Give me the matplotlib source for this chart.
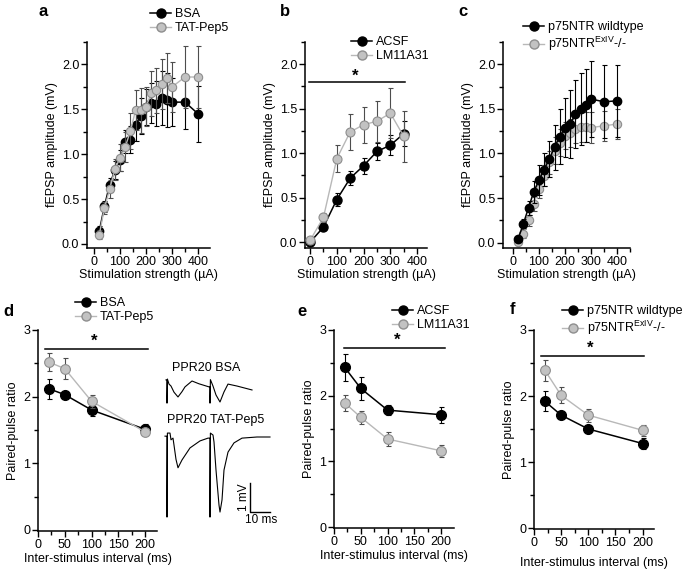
# -*- coding: utf-8 -*-
import matplotlib
matplotlib.use('Agg')
import matplotlib.pyplot as plt
from matplotlib.lines import Line2D
from matplotlib.ticker import MultipleLocator

plt.rcParams['font.family'] = ['Liberation Sans', 'DejaVu Sans']
plt.rcParams['font.size'] = 9
plt.rcParams['mathtext.fontset'] = 'custom'
plt.rcParams['mathtext.rm'] = 'Liberation Sans'

# ---- data: input-output curves (a-c) ----
stim_ac = [20, 40, 60, 80, 100, 120, 140, 160, 180, 200, 220, 240, 260, 280, 300, 350, 400]
bsa_io = [0.14, 0.42, 0.66, 0.82, 0.93, 1.14, 1.16, 1.33, 1.43, 1.53, 1.57, 1.56, 1.63, 1.60, 1.58, 1.58, 1.45]
bsa_io_err = [0.06, 0.06, 0.08, 0.10, 0.12, 0.13, 0.15, 0.18, 0.20, 0.20, 0.22, 0.25, 0.30, 0.30, 0.27, 0.30, 0.31]
pep5_io = [0.10, 0.40, 0.61, 0.83, 0.96, 1.08, 1.26, 1.49, 1.49, 1.53, 1.68, 1.71, 1.78, 1.85, 1.75, 1.86, 1.86]
pep5_io_err = [0.05, 0.07, 0.10, 0.12, 0.15, 0.17, 0.20, 0.22, 0.25, 0.22, 0.25, 0.25, 0.28, 0.28, 0.28, 0.34, 0.34]

stim_b = [0, 50, 100, 150, 200, 250, 300, 350]
acsf_io = [0.00, 0.17, 0.48, 0.72, 0.86, 1.02, 1.09, 1.22]
acsf_io_err = [0.03, 0.03, 0.07, 0.08, 0.09, 0.10, 0.11, 0.14]
lm_io = [0.02, 0.28, 0.94, 1.24, 1.32, 1.36, 1.45, 1.19]
lm_io_err = [0.03, 0.05, 0.15, 0.20, 0.20, 0.23, 0.28, 0.29]

wt_io = [0.04, 0.21, 0.39, 0.57, 0.70, 0.82, 0.94, 1.07, 1.19, 1.29, 1.33, 1.44, 1.50, 1.54, 1.61, 1.58, 1.59]
wt_io_err = [0.03, 0.05, 0.08, 0.12, 0.17, 0.18, 0.20, 0.25, 0.31, 0.33, 0.38, 0.38, 0.40, 0.41, 0.43, 0.41, 0.40]
ko_io = [0.01, 0.10, 0.25, 0.43, 0.60, 0.75, 0.90, 1.03, 1.12, 1.20, 1.23, 1.28, 1.30, 1.30, 1.29, 1.31, 1.33]
ko_io_err = [0.03, 0.05, 0.06, 0.08, 0.10, 0.12, 0.13, 0.15, 0.15, 0.15, 0.16, 0.16, 0.17, 0.17, 0.17, 0.17, 0.17]

# ---- data: paired-pulse ratio (d-f) ----
isi = [20, 50, 100, 200]
bsa_ppr = [2.12, 2.03, 1.80, 1.51]
bsa_ppr_err = [0.15, 0.03, 0.09, 0.08]
pep5_ppr = [2.52, 2.42, 1.93, 1.47]
pep5_ppr_err = [0.14, 0.16, 0.10, 0.05]
acsf_ppr = [2.43, 2.11, 1.78, 1.71]
acsf_ppr_err = [0.20, 0.17, 0.08, 0.12]
lm_ppr = [1.89, 1.67, 1.34, 1.16]
lm_ppr_err = [0.12, 0.10, 0.10, 0.09]
wt_ppr = [1.92, 1.71, 1.50, 1.28]
wt_ppr_err = [0.15, 0.05, 0.06, 0.08]
ko_ppr = [2.39, 2.01, 1.71, 1.48]
ko_ppr_err = [0.16, 0.12, 0.10, 0.08]

# example traces (ms, mV)
bsa_trace_t = [-0.5, 0.0, 0.0, 0.2, 1.0, 2.0, 3.5, 5.5, 7.5, 9.0, 12.5, 16.0, 21.0,
               21.5, 21.5, 21.7, 23.0, 24.5, 26.5, 28.5, 30.5, 35.0, 42.5]
bsa_trace_v = [2.04, 2.04, 1.21, 2.07, 1.89, 1.82, 1.60, 1.43, 1.62, 1.79, 2.00, 1.90, 1.79,
               1.79, 1.21, 2.05, 1.82, 1.50, 1.25, 1.61, 1.89, 1.82, 1.68]
pep5_trace_t = [-1.0, 0.0, 0.0, 0.2, 1.5, 2.0, 3.0, 3.5, 4.5, 5.5, 7.5, 11.5, 16.5, 20.5,
                21.5, 21.5, 21.7, 23.0, 23.5, 24.5, 26.0, 26.5, 27.5, 28.5, 30.5, 33.5, 37.5, 45.0, 51.5]
pep5_trace_v = [0.03, 0.03, -2.86, 0.14, 0.14, -0.10, -0.04, -0.29, -0.80, -1.10, -0.82, -0.39, -0.14, -0.04,
                -0.04, -2.86, 0.14, 0.07, -0.18, -1.18, -2.43, -2.68, -2.25, -1.18, -0.54, -0.21, -0.04, 0.0, 0.0]

W, H = 685, 576
GREY_FACE = '#c2c2c2'
GREY_EDGE = '#8e8e8e'
GREY_LINE = '#b8b8b8'
GREY_ERR = '#4d4d4d'

fig = plt.figure(figsize=(W / 100, H / 100), dpi=100, facecolor='white')


def px_axes(left, top, right, bottom):
    return fig.add_axes([left / W, 1 - bottom / H, (right - left) / W, (bottom - top) / H])


def prism_style(ax):
    for s in ('top', 'right'):
        ax.spines[s].set_visible(False)
    for s in ('left', 'bottom'):
        ax.spines[s].set_linewidth(1.1)
    ax.tick_params(which='both', direction='out', width=1.0, labelsize=9, pad=1.5)
    ax.tick_params(which='major', length=4)
    ax.tick_params(which='minor', length=3)


def series(ax, x, y, e, grey, ms, z):
    if grey:
        ax.errorbar(x, y, yerr=e, fmt='o-', color=GREY_LINE, mfc=GREY_FACE, mec=GREY_EDGE,
                    ecolor=GREY_ERR, ms=ms, lw=1.0, elinewidth=0.8, capsize=1.8,
                    capthick=0.8, mew=0.8, zorder=z)
    else:
        ax.errorbar(x, y, yerr=e, fmt='o-', color='black', mfc='black', mec='black',
                    ecolor='black', ms=ms, lw=1.1, elinewidth=0.8, capsize=1.8,
                    capthick=0.8, zorder=z)


def legend(labels, x, y, ms):
    h = [Line2D([], [], color='black', marker='o', mfc='black', mec='black', ms=ms, lw=1.1),
         Line2D([], [], color=GREY_LINE, marker='o', mfc=GREY_FACE, mec=GREY_EDGE, ms=ms, lw=1.0)]
    fig.legend(h, labels, loc='upper left', bbox_to_anchor=(x / W, 1 - y / H), frameon=False,
               handlelength=1.7, handletextpad=0.3, labelspacing=0.15, borderpad=0,
               borderaxespad=0, fontsize=9)


def sig(ax, x0, x1, y, xs, ys):
    ax.plot([x0, x1], [y, y], color='black', lw=1.1, clip_on=False)
    ax.text(xs, ys, '*', ha='center', va='center', fontsize=12, fontweight='bold')


ko_label = r'p75NTR$^{\mathrm{ExIV}}$-/-'

# ---- a ----
ax = px_axes(87, 42, 210, 248)
series(ax, stim_ac, bsa_io, bsa_io_err, False, 6, 2)
series(ax, stim_ac, pep5_io, pep5_io_err, True, 6, 3)
ax.set_xlim(-27, 446)
ax.set_ylim(-0.045, 2.25)
# ---- b ----
bx = px_axes(305, 42, 427, 248)
series(bx, stim_b, acsf_io, acsf_io_err, False, 6.5, 2)
series(bx, stim_b, lm_io, lm_io_err, True, 6.5, 3)
bx.set_xlim(-19, 437)
bx.set_ylim(-0.065, 2.25)
sig(bx, -5, 355, 1.8, 168, 1.87)
# ---- c ----
cx = px_axes(503, 42, 630, 248)
series(cx, stim_ac, ko_io, ko_io_err, True, 6, 2)
series(cx, stim_ac, wt_io, wt_io_err, False, 6, 3)
cx.set_xlim(-38, 450)
cx.set_ylim(-0.06, 2.25)
for a_ in (ax, bx, cx):
    prism_style(a_)
    a_.xaxis.set_major_locator(MultipleLocator(100))
    a_.xaxis.set_minor_locator(MultipleLocator(50))
    a_.yaxis.set_major_locator(MultipleLocator(0.5))
    a_.yaxis.set_minor_locator(MultipleLocator(0.25))
    a_.yaxis.set_major_formatter(matplotlib.ticker.FormatStrFormatter('%.1f'))
    a_.set_xlabel('Stimulation strength (µA)', fontsize=9, labelpad=1)
    a_.set_ylabel('fEPSP amplitude (mV)', fontsize=9, labelpad=3)

# ---- d ----
dx = px_axes(38, 330, 157, 531)
series(dx, isi, bsa_ppr, bsa_ppr_err, False, 7, 2)
series(dx, isi, pep5_ppr, pep5_ppr_err, True, 7, 3)
dx.set_xlim(0, 222)
sig(dx, 13, 206, 2.72, 105, 2.83)
# ---- e ----
ex = px_axes(334, 330, 454, 528)
series(ex, isi, acsf_ppr, acsf_ppr_err, False, 7, 3)
series(ex, isi, lm_ppr, lm_ppr_err, True, 7, 2)
ex.set_xlim(0, 224)
sig(ex, 18, 207, 2.73, 118, 2.84)
# ---- f ----
fx = px_axes(534, 330, 654, 529)
series(fx, isi, wt_ppr, wt_ppr_err, False, 7, 2)
series(fx, isi, ko_ppr, ko_ppr_err, True, 7, 3)
fx.set_xlim(0, 221)
sig(fx, 13, 202, 2.61, 103, 2.72)
for a_, lp in ((dx, 2), (ex, 2), (fx, 6)):
    prism_style(a_)
    a_.set_ylim(-0.015, 3)
    a_.xaxis.set_major_locator(MultipleLocator(50))
    a_.xaxis.set_minor_locator(MultipleLocator(25))
    a_.yaxis.set_major_locator(MultipleLocator(1))
    a_.yaxis.set_minor_locator(MultipleLocator(0.5))
    a_.set_xlabel('Inter-stimulus interval (ms)', fontsize=9, labelpad=lp)
    a_.set_ylabel('Paired-pulse ratio', fontsize=9, labelpad=3)

# ---- example traces in d ----
tx = px_axes(160, 355, 280, 525)
tx.axis('off')
tx.set_xlim(-3.5, 56.5)
tx.set_ylim((437 - 525) / 28, (437 - 355) / 28)
tx.plot(bsa_trace_t, bsa_trace_v, color='black', lw=0.8)
tx.plot(pep5_trace_t, pep5_trace_v, color='black', lw=0.8)
tx.text(2.5, (437 - 368) / 28, 'PPR20 BSA', fontsize=9, va='center', ha='left')
tx.text(0.0, (437 - 420) / 28, 'PPR20 TAT-Pep5', fontsize=9, va='center', ha='left')
tx.plot([41.5, 41.5, 51.5], [-1.64, -2.68, -2.68], color='black', lw=1.0)
tx.text(38.3, -2.16, '1 mV', rotation=90, fontsize=8.5, ha='center', va='center')
tx.text(47.0, -2.75, '10 ms', fontsize=8.5, ha='center', va='top')

# ---- legends ----
legend(['BSA', 'TAT-Pep5'], 150, 8, 6.5)
legend(['ACSF', 'LM11A31'], 351, 36, 6.5)
legend(['p75NTR wildtype', ko_label], 523, 21, 6.5)
legend(['BSA', 'TAT-Pep5'], 75, 297, 6.5)
legend(['ACSF', 'LM11A31'], 392, 305, 6.5)
legend(['p75NTR wildtype', ko_label], 562, 305, 6.5)

# ---- panel letters ----
for lab, x, y in (('a', 43, 11), ('b', 285, 12), ('c', 463, 11),
                  ('d', 8, 311), ('e', 302, 311), ('f', 513, 310)):
    fig.text(x / W, 1 - y / H, lab, fontsize=12, fontweight='bold', ha='center', va='center')

plt.savefig('out.png', dpi=100, facecolor='white')
